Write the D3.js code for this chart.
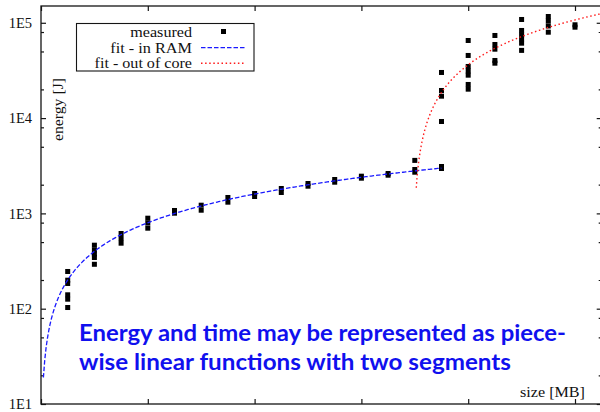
<!DOCTYPE html>
<html>
<head>
<meta charset="utf-8">
<script src="https://cdn.jsdelivr.net/npm/d3@7"></script>
<style>
  html, body { margin: 0; padding: 0; background: #fff; }
  svg { display: block; }
</style>
</head>
<body>
<svg id="chart" width="600" height="412"></svg>
<script>
// Problem size steps (one column of repeated runs per step)
const sizes = [1, 2, 3, 4, 5, 6, 7, 8, 9, 10, 11, 12, 13, 14, 15, 16, 17, 18, 19, 20];

// Measured energy [J] of every run, grouped by size step
const energyRuns = [
  [245.7, 199.1, 183.9, 139.9, 125.8, 102.9],
  [463.8, 413, 375, 344.6, 292.4],
  [615.3, 545, 486.8],
  [890.5, 793, 699.4],
  [1072.5, 1004.9],
  [1219, 1080],
  [1468.6, 1311],
  [1617.5, 1504],
  [1825, 1657],
  [2059, 1929],
  [2268, 2125],
  [2457, 2341],
  [2622, 2516],
  [3598, 2888, 2705],
  [30100, 19480, 16980, 9210, 3105, 2958],
  [65200, 45400, 34790, 31200, 28200, 22530, 20110],
  [73580, 59190, 52840, 40220, 37680],
  [108300, 83050, 74470, 67610, 61090, 51330],
  [116400, 104400, 92540, 79650],
  [95280, 89910]
];

// Linear fits E = slope * size + intercept, each drawn over its own size range
const fitInRam = { slope: 199.3, intercept: 1, from: 0.09, to: 15 };
const fitOutOfCore = { slope: 17700, intercept: -246915, from: 14.055, to: 21 };

// Axis ticks
const xTickValues = [0, 4, 8, 12, 16, 20];
const yTickValues = [1e1, 1e2, 1e3, 1e4, 1e5];
const yTickLabels = ["1E1", "1E2", "1E3", "1E4", "1E5"];
const yMinorFactors = [2, 5, 8];

// Legend and caption texts
const legendLabels = ["measured", "fit - in RAM", "fit - out of core"];
const captionLines = [
  "Energy and time may be represented as piece-",
  "wise linear functions with two segments"
];

const svg = d3.select("#chart");
svg.append("rect").attr("width", 600).attr("height", 412).attr("fill", "#fff");

const plot = { left: 41, right: 601.7, top: 6, bottom: 404 };

const x = d3.scaleLinear().domain([0, 21]).range([plot.left, plot.right]);
const y = d3.scaleLog().domain([10, 1.5e5]).range([plot.bottom, plot.top]);

const serif = "'Liberation Serif', 'Times New Roman', serif";
const axisColor = "#151515";

svg.append("clipPath").attr("id", "plotClip")
  .append("rect")
  .attr("x", plot.left).attr("y", plot.top)
  .attr("width", plot.right - plot.left).attr("height", plot.bottom - plot.top);

// Minor y ticks at 2, 5 and 8 of every decade
const yMinor = [];
for (let e = 1; e <= 5; e++) {
  yMinorFactors.forEach(f => {
    const v = f * Math.pow(10, e);
    if (v <= 1.5e5) yMinor.push(v);
  });
}

function styleAxis(g) {
  g.select(".domain").remove();
  g.selectAll(".tick line").attr("stroke", axisColor).attr("stroke-width", 1.2);
}

// Left axis with labels
svg.append("g")
  .attr("transform", `translate(${plot.left},0)`)
  .call(d3.axisLeft(y).tickValues(yTickValues)
    .tickFormat((d, i) => yTickLabels[i])
    .tickSizeInner(-5).tickSizeOuter(0).tickPadding(9))
  .call(styleAxis)
  .call(g => g.selectAll("text")
    .attr("font-family", serif).attr("font-size", 14.5).attr("fill", "#111"));

svg.append("g")
  .attr("transform", `translate(${plot.left},0)`)
  .call(d3.axisLeft(y).tickValues(yMinor).tickFormat("")
    .tickSizeInner(-3).tickSizeOuter(0))
  .call(styleAxis);

// Right axis (mirrored ticks)
svg.append("g")
  .attr("transform", `translate(${plot.right},0)`)
  .call(d3.axisRight(y).tickValues(yTickValues).tickFormat("")
    .tickSizeInner(-5).tickSizeOuter(0))
  .call(styleAxis);

svg.append("g")
  .attr("transform", `translate(${plot.right},0)`)
  .call(d3.axisRight(y).tickValues(yMinor).tickFormat("")
    .tickSizeInner(-3).tickSizeOuter(0))
  .call(styleAxis);

// Top and bottom x ticks
svg.append("g")
  .attr("transform", `translate(0,${plot.top})`)
  .call(d3.axisTop(x).tickValues(xTickValues).tickFormat("")
    .tickSizeInner(-5).tickSizeOuter(0))
  .call(styleAxis);

svg.append("g")
  .attr("transform", `translate(0,${plot.bottom})`)
  .call(d3.axisBottom(x).tickValues(xTickValues).tickFormat("")
    .tickSizeInner(-5).tickSizeOuter(0))
  .call(styleAxis);

// Plot frame
svg.append("rect")
  .attr("x", plot.left).attr("y", plot.top)
  .attr("width", plot.right - plot.left).attr("height", plot.bottom - plot.top)
  .attr("fill", "none").attr("stroke", axisColor).attr("stroke-width", 1.3);

// Axis titles
svg.append("text")
  .attr("transform", "translate(63,141) rotate(-90)")
  .attr("font-family", serif).attr("font-size", 14.5).attr("fill", "#111")
  .attr("textLength", 63).attr("lengthAdjust", "spacingAndGlyphs")
  .text("energy [J]");

svg.append("text")
  .attr("x", 520).attr("y", 397)
  .attr("font-family", serif).attr("font-size", 14.5).attr("fill", "#111")
  .attr("textLength", 65).attr("lengthAdjust", "spacingAndGlyphs")
  .text("size [MB]");

// Measured points
const points = [];
sizes.forEach((s, i) => energyRuns[i].forEach(v => points.push({ s, v })));

const marks = svg.append("g").attr("clip-path", "url(#plotClip)");
const sq = 5;
marks.selectAll("rect.pt")
  .data(points)
  .join("rect")
  .attr("class", "pt")
  .attr("x", d => x(d.s) - sq / 2)
  .attr("y", d => y(d.v) - sq / 2)
  .attr("width", sq).attr("height", sq)
  .attr("fill", "#000");

// Fit lines
function fitSamples(f) {
  const n = 300;
  return d3.range(n + 1).map(i => {
    const s = f.from + (f.to - f.from) * i / n;
    return { s, v: f.slope * s + f.intercept };
  });
}
const line = d3.line().x(d => x(d.s)).y(d => y(d.v));

marks.append("path")
  .datum(fitSamples(fitInRam))
  .attr("d", line)
  .attr("fill", "none").attr("stroke", "#1a1aff")
  .attr("stroke-width", 1.3).attr("stroke-dasharray", "4.5,2");

marks.append("path")
  .datum(fitSamples(fitOutOfCore))
  .attr("d", line)
  .attr("fill", "none").attr("stroke", "#ff1a1a")
  .attr("stroke-width", 1.4).attr("stroke-dasharray", "1.5,2.6");

// Legend
const legend = svg.append("g");
legend.append("rect")
  .attr("x", 76.5).attr("y", 23.5).attr("width", 177.5).attr("height", 47.5)
  .attr("fill", "#fff").attr("stroke", axisColor).attr("stroke-width", 1.1);

const legendWidths = [61.7, 81.7, 97.4];
const legendBase = [37, 52.5, 68];
legendLabels.forEach((t, i) => {
  legend.append("text")
    .attr("x", 192 - legendWidths[i]).attr("y", legendBase[i])
    .attr("font-family", serif).attr("font-size", 14.5).attr("fill", "#111")
    .attr("textLength", legendWidths[i]).attr("lengthAdjust", "spacingAndGlyphs")
    .text(t);
});
legend.append("rect")
  .attr("x", 221).attr("y", 29).attr("width", sq).attr("height", sq).attr("fill", "#000");
legend.append("line")
  .attr("x1", 201).attr("x2", 245).attr("y1", 47.7).attr("y2", 47.7)
  .attr("stroke", "#1a1aff").attr("stroke-width", 1.3).attr("stroke-dasharray", "4.5,2");
legend.append("line")
  .attr("x1", 201).attr("x2", 244).attr("y1", 63.3).attr("y2", 63.3)
  .attr("stroke", "#ff1a1a").attr("stroke-width", 1.4).attr("stroke-dasharray", "1.5,2.6");

// Caption
const captionWidths = [487, 432];
const captionBase = [341, 369.5];
captionLines.forEach((t, i) => {
  svg.append("text")
    .attr("x", 79).attr("y", captionBase[i])
    .attr("font-family", "Lato, 'Open Sans', sans-serif")
    .attr("font-weight", 700).attr("font-size", 22.5)
    .attr("fill", "#1010ee")
    .attr("textLength", captionWidths[i]).attr("lengthAdjust", "spacingAndGlyphs")
    .text(t);
});
</script>
</body>
</html>
